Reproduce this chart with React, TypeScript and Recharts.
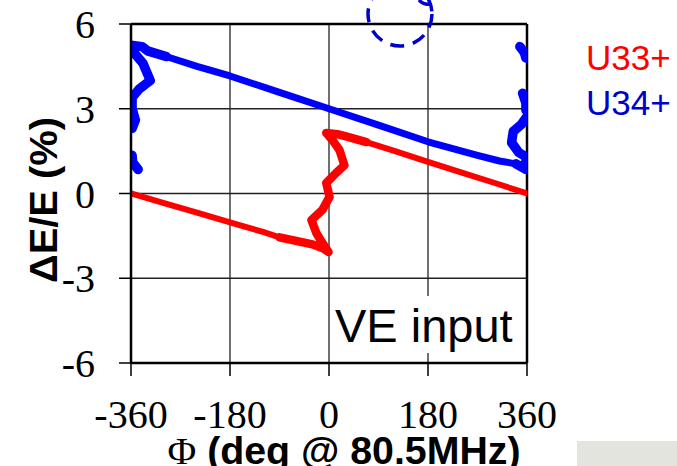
import React from "react";
import {
  ComposedChart,
  Line,
  XAxis,
  YAxis,
  CartesianGrid,
  ReferenceLine,
} from "recharts";

// Tick values
const phaseTicks = [-360, -180, 0, 180, 360];
const deltaTicks = [-6, -3, 0, 3, 6];

// U33+ (red) trace: phase (deg) and ΔE/E (%)
const u33Phase = [
  -360, -300, -240, -180, -120, -90, -60, -30, -10, -1, -12, -23, -32, -12, 1,
  -5, 13, 28, 19, 6, -5, 15, 31, 68, 120, 180, 240, 300, 360,
];
const u33Delta = [
  0.0, -0.34, -0.68, -1.02, -1.36, -1.55, -1.68, -1.8, -1.95, -2.07, -1.75,
  -1.4, -0.94, -0.58, -0.12, 0.37, 0.73, 1.0, 1.54, 1.9, 2.14, 2.1, 2.02, 1.82,
  1.5, 1.12, 0.75, 0.38, 0.0,
];

// U34+ (blue) trace: null marks a gap in the trace
const u34Phase = [
  -347, -357, -358, -358,
  -358, -352, -358, -358, -345, -325, -338, -355, -360, -340, -330, -296, -240,
  -180, -90, 0, 90, 180, 270, 310, 340, 358, 358, 345, 332, 335, 350, 359,
  359,
  352, 358, 358,
  358,
  347, 355, 358,
];
const u34Delta: (number | null)[] = [
  0.85, 1.1, 1.35, null,
  2.3, 2.6, 3.0, 3.4, 3.7, 4.0, 4.6, 5.0, 5.25, 5.2, 5.05, 4.85, 4.5,
  4.16, 3.58, 3.0, 2.42, 1.83, 1.35, 1.15, 1.05, 0.85, 1.3, 1.45, 1.8, 2.2,
  2.45, 2.7,
  null,
  3.55, 3.2, 2.95,
  null,
  5.2, 5.0, 4.8,
];

const u33Data = u33Phase.map((x, i) => ({ x, y: u33Delta[i] }));
const u33Thick = u33Data.map((p) =>
  p.x >= -95 && p.x <= 70 ? p : { x: p.x, y: null }
);
const u34Data = u34Phase.map((x, i) => ({ x, y: u34Delta[i] }));
const u34Thick = u34Data.map((p) =>
  p.x <= -290 || p.x >= 330 ? p : { x: p.x, y: null }
);

const legendItems = [
  { label: "U33+", color: "#ff0000" },
  { label: "U34+", color: "#0000cc" },
];

const serif = "'Liberation Serif', 'Times New Roman', serif";
const sans = "'Liberation Sans', Arial, sans-serif";

const YTick = (props: any) => {
  const { x, y, payload } = props;
  return (
    <text
      x={x}
      y={y + 14}
      textAnchor="end"
      fontFamily={serif}
      fontSize={40}
      fill="#000"
    >
      {payload.value}
    </text>
  );
};

const XTick = (props: any) => {
  const { x, y, payload } = props;
  return (
    <text
      x={x}
      y={y + 50}
      textAnchor="middle"
      fontFamily={serif}
      fontSize={40}
      fill="#000"
    >
      {payload.value}
    </text>
  );
};

export default function App() {
  return (
    <div
      style={{
        position: "absolute",
        left: 0,
        top: 0,
        width: 677,
        height: 466,
        background: "#fff",
        overflow: "hidden",
      }}
    >
      <ComposedChart
        width={677}
        height={466}
        margin={{ top: 24, right: 150, bottom: 0, left: 0 }}
      >
        <CartesianGrid stroke="#222" strokeWidth={1.3} />
        <XAxis
          type="number"
          dataKey="x"
          domain={[-360, 360]}
          ticks={phaseTicks}
          height={103}
          tickSize={13}
          tickMargin={2}
          axisLine={{ stroke: "#000", strokeWidth: 2.5 }}
          tickLine={{ stroke: "#000", strokeWidth: 1.5 }}
          tick={<XTick />}
          interval={0}
          allowDataOverflow
        />
        <YAxis
          type="number"
          dataKey="y"
          domain={[-6, 6]}
          ticks={deltaTicks}
          width={131}
          tickSize={12}
          tickMargin={24}
          axisLine={{ stroke: "#000", strokeWidth: 2.5 }}
          tickLine={{ stroke: "#000", strokeWidth: 1.5 }}
          tick={<YTick />}
          interval={0}
          allowDataOverflow
        />
        <ReferenceLine y={6} stroke="#000" strokeWidth={2.5} />
        <ReferenceLine x={360} stroke="#000" strokeWidth={2.5} />
        <Line
          data={u33Data}
          dataKey="y"
          type="linear"
          stroke="#ff0000"
          strokeWidth={6}
          strokeLinejoin="round"
          strokeLinecap="round"
          dot={false}
          isAnimationActive={false}
        />
        <Line
          data={u33Thick}
          dataKey="y"
          type="linear"
          stroke="#ff0000"
          strokeWidth={8.5}
          strokeLinejoin="round"
          strokeLinecap="round"
          dot={false}
          isAnimationActive={false}
        />
        <Line
          data={u34Data}
          dataKey="y"
          type="linear"
          stroke="#0000ff"
          strokeWidth={7}
          strokeLinejoin="round"
          strokeLinecap="round"
          dot={false}
          isAnimationActive={false}
        />
        <Line
          data={u34Thick}
          dataKey="y"
          type="linear"
          stroke="#0000ff"
          strokeWidth={9.5}
          strokeLinejoin="round"
          strokeLinecap="round"
          dot={false}
          isAnimationActive={false}
        />
      </ComposedChart>
      <svg
        width={677}
        height={466}
        style={{ position: "absolute", left: 0, top: 0, pointerEvents: "none" }}
      >
        {/* VE input box */}
        <rect x={331} y={296} width={193} height={57} fill="#fff" />
        <text x={335} y={342} fontFamily={sans} fontSize={47} fill="#000">
          VE input
        </text>
        {/* dashed circle */}
        <circle
          cx={400}
          cy={14}
          r={32}
          fill="none"
          stroke="#0000cc"
          strokeWidth={3.5}
          strokeDasharray="14 9"
        />
        <path
          d="M419 0 Q423 5 429 4"
          fill="none"
          stroke="#0000cc"
          strokeWidth={3.5}
        />
        {/* legend */}
        {legendItems.map((it, i) => (
          <text
            key={it.label}
            x={586}
            y={70 + i * 45}
            fontFamily={sans}
            fontSize={35}
            fill={it.color}
          >
            {it.label}
          </text>
        ))}
        {/* axis titles */}
        <text
          x={57}
          y={200}
          transform="rotate(-90 57 200)"
          textAnchor="middle"
          fontFamily={sans}
          fontWeight="bold"
          fontSize={38}
          fill="#000"
          textLength={166}
          lengthAdjust="spacingAndGlyphs"
        >
          ΔE/E (%)
        </text>
        <text
          x={344}
          y={464}
          textAnchor="middle"
          fontFamily={sans}
          fontWeight="bold"
          fontSize={38}
          fill="#000"
          textLength={353}
          lengthAdjust="spacingAndGlyphs"
        >
          <tspan fontFamily={serif} fontWeight="normal">Φ</tspan> (deg @ 80.5MHz)
        </text>
        {/* grey patch bottom right */}
        <rect x={577} y={441} width={100} height={25} fill="#e4e4de" />
      </svg>
    </div>
  );
}
